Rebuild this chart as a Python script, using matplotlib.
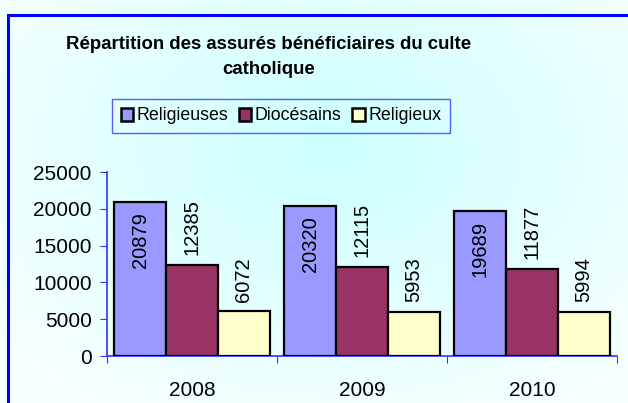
import numpy as np
import matplotlib
matplotlib.use("Agg")
import matplotlib.pyplot as plt
from matplotlib.patches import Rectangle, Patch

# data
years = ["2008", "2009", "2010"]
series_names = ["Religieuses", "Diocésains", "Religieux"]
religieuses = [20879, 20320, 19689]
diocesains = [12385, 12115, 11877]
religieux = [6072, 5953, 5994]
series = [religieuses, diocesains, religieux]
colors = ["#9999FF", "#993366", "#FFFFCC"]

plt.rcParams["font.family"] = ["Liberation Sans", "DejaVu Sans"]

fig = plt.figure(figsize=(6.28, 4.03), dpi=100)

# background gradient (light cyan in the middle, paler at the edges)
bg = fig.add_axes([0, 0, 1, 1], zorder=-10)
yy, xx = np.mgrid[0:403, 0:628]
d = np.sqrt(((xx - 330) / 420.0) ** 2 + ((yy - 150) / 300.0) ** 2)
d = np.clip(d, 0, 1)
c_in = np.array([0.80, 1.0, 1.0])
c_out = np.array([0.97, 1.0, 1.0])
img = c_in[None, None, :] * (1 - d[..., None]) + c_out[None, None, :] * d[..., None]
bg.imshow(img, aspect="auto", extent=[0, 1, 0, 1], origin="upper")
bg.set_axis_off()

# blue frame
fig.patches.append(Rectangle((8 / 628, -0.1), 1.2, 1 - 15 / 403 + 0.1,
                             transform=fig.transFigure, fill=False,
                             edgecolor="#0000FF", linewidth=2.2))

ax = fig.add_axes([107 / 628, 1 - 356 / 403, 510 / 628, 184 / 403])
ax.patch.set_alpha(0)

x = np.arange(len(years))
width = 0.305
offsets = [-width, 0, width]
for i, (vals, col) in enumerate(zip(series, colors)):
    bars = ax.bar(x + offsets[i], vals, width, color=col, edgecolor="black",
                  linewidth=1.6, label=series_names[i], zorder=3)
    for b, v in zip(bars, vals):
        cx = b.get_x() + b.get_width() / 2
        if i == 0:
            ax.annotate(str(v), (cx, v), xytext=(0, -7), textcoords="offset points",
                        rotation=90, ha="center", va="top", fontsize=14.5)
        else:
            ax.annotate(str(v), (cx, v), xytext=(0, 7), textcoords="offset points",
                        rotation=90, ha="center", va="bottom", fontsize=14.5)

ax.set_xlim(-0.5, 2.5)
ax.set_ylim(0, 25000)
ax.set_yticks(range(0, 25001, 5000))
ax.tick_params(axis="y", labelsize=15, color="#3333FF", length=5, pad=6)
ax.set_xticks([-0.5, 0.5, 1.5, 2.5])
ax.set_xticklabels([])
ax.tick_params(axis="x", color="#3333FF", length=5)
ax.set_xticks(x, minor=True)
ax.set_xticklabels(years, minor=True)
ax.tick_params(axis="x", which="minor", length=0, labelsize=15, pad=18)
for s in ["top", "right"]:
    ax.spines[s].set_visible(False)
for s in ["left", "bottom"]:
    ax.spines[s].set_color("#3333FF")
    ax.spines[s].set_linewidth(1.2)

fig.text(269 / 628, 1 - 57 / 403, "Répartition des assurés bénéficiaires du culte\ncatholique",
         ha="center", va="center", fontsize=13.4, fontweight="bold", linespacing=1.6)

handles = [Patch(facecolor=c, edgecolor="black", linewidth=1.8) for c in colors]
leg = fig.legend(handles, series_names, loc="center", bbox_to_anchor=(281 / 628, 1 - 116 / 403),
                 ncol=3, fontsize=12.8, frameon=True, fancybox=False,
                 handlelength=0.7, handleheight=0.7, handletextpad=0.2,
                 columnspacing=0.6, borderpad=0.5, borderaxespad=0)
leg.get_frame().set_edgecolor("#3333FF")
leg.get_frame().set_facecolor("none")
leg.get_frame().set_linewidth(1.0)

fig.savefig("out.png", dpi=100)
